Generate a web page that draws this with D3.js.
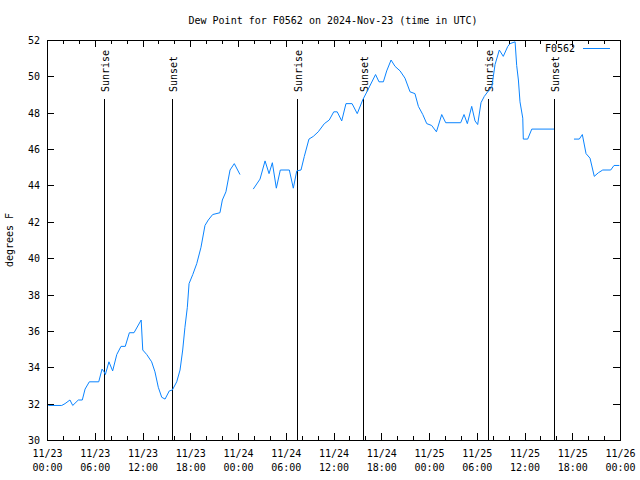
<!DOCTYPE html>
<html>
<head>
<meta charset="utf-8">
<script src="https://cdn.jsdelivr.net/npm/d3@7"></script>
<style>
  body { margin: 0; background: #fff; }
  svg { display: block; }
  text { font-family: "DejaVu Sans Mono", "Liberation Mono", monospace; font-size: 10px; fill: #000; }
</style>
</head>
<body>
<svg id="chart" width="640" height="480"></svg>
<script>
// ---- data ----
const title = "Dew Point for F0562 on 2024-Nov-23 (time in UTC)";
const seriesName = "F0562";
const yLabel = "degrees F";
// observation times (UTC); null values mark gaps in the record
const times = [
  "2024-11-23T00:10","2024-11-23T01:51","2024-11-23T02:16","2024-11-23T02:53","2024-11-23T03:14",
  "2024-11-23T03:56","2024-11-23T04:26","2024-11-23T04:47","2024-11-23T05:19","2024-11-23T06:30",
  "2024-11-23T06:55","2024-11-23T07:10","2024-11-23T07:20","2024-11-23T07:47","2024-11-23T08:15",
  "2024-11-23T08:46","2024-11-23T09:18","2024-11-23T09:50","2024-11-23T10:21","2024-11-23T10:56",
  "2024-11-23T11:50","2024-11-23T12:02","2024-11-23T12:32","2024-11-23T13:09","2024-11-23T13:34",
  "2024-11-23T13:59","2024-11-23T14:25","2024-11-23T14:50","2024-11-23T15:22","2024-11-23T15:45",
  "2024-11-23T16:18","2024-11-23T16:43","2024-11-23T17:03","2024-11-23T17:20","2024-11-23T17:38",
  "2024-11-23T17:51","2024-11-23T18:19","2024-11-23T18:49","2024-11-23T19:21","2024-11-23T19:51",
  "2024-11-23T20:16","2024-11-23T20:49","2024-11-23T21:44","2024-11-23T22:02","2024-11-23T22:29",
  "2024-11-23T23:00","2024-11-23T23:32","2024-11-24T00:15","2024-11-24T01:00",
  "2024-11-24T01:55","2024-11-24T02:46","2024-11-24T03:24","2024-11-24T03:54","2024-11-24T04:19",
  "2024-11-24T04:49","2024-11-24T05:19","2024-11-24T06:27","2024-11-24T06:57","2024-11-24T07:23",
  "2024-11-24T07:55","2024-11-24T08:20","2024-11-24T08:55","2024-11-24T09:28","2024-11-24T10:05",
  "2024-11-24T10:51","2024-11-24T11:28","2024-11-24T12:02","2024-11-24T12:28","2024-11-24T13:02",
  "2024-11-24T13:34","2024-11-24T14:20","2024-11-24T14:59","2024-11-24T15:40","2024-11-24T16:22",
  "2024-11-24T17:17","2024-11-24T17:43","2024-11-24T18:16","2024-11-24T18:41","2024-11-24T19:14",
  "2024-11-24T19:44","2024-11-24T20:22","2024-11-24T20:59","2024-11-24T21:37","2024-11-24T22:14",
  "2024-11-24T22:40","2024-11-24T23:13","2024-11-24T23:43","2024-11-25T00:20","2024-11-25T00:56",
  "2024-11-25T01:36","2024-11-25T02:06","2024-11-25T03:59","2024-11-25T04:24","2024-11-25T04:49",
  "2024-11-25T05:22","2024-11-25T05:47","2024-11-25T06:07","2024-11-25T06:32","2024-11-25T06:57",
  "2024-11-25T07:23","2024-11-25T07:53","2024-11-25T08:18","2024-11-25T08:50","2024-11-25T09:20",
  "2024-11-25T09:54","2024-11-25T10:11","2024-11-25T10:49","2024-11-25T11:01","2024-11-25T11:14",
  "2024-11-25T11:26","2024-11-25T11:47","2024-11-25T11:51","2024-11-25T12:24","2024-11-25T12:55",
  "2024-11-25T15:43","2024-11-25T17:00",
  "2024-11-25T18:13","2024-11-25T18:53","2024-11-25T19:16","2024-11-25T19:44","2024-11-25T20:14",
  "2024-11-25T20:46","2024-11-25T21:17","2024-11-25T21:50","2024-11-25T22:50","2024-11-25T23:15",
  "2024-11-25T23:55"
];
const dewPoint = [
  31.9,31.9,32.0,32.2,31.9,
  32.2,32.2,32.8,33.2,33.2,
  33.9,33.75,33.6,34.3,33.8,
  34.7,35.15,35.15,35.9,35.9,
  36.6,34.95,34.7,34.3,33.75,
  32.9,32.35,32.25,32.7,32.75,
  33.2,33.85,34.95,36.2,37.3,
  38.6,39.1,39.7,40.6,41.8,
  42.1,42.4,42.5,43.2,43.65,
  44.85,45.2,44.6,null,
  43.8,44.35,45.35,44.65,45.25,
  43.85,44.85,44.85,43.85,44.8,
  44.85,45.6,46.55,46.7,46.95,
  47.4,47.6,48.05,48.05,47.55,
  48.5,48.5,47.95,48.7,49.3,
  50.1,49.7,49.7,50.3,50.9,
  50.55,50.3,49.9,49.15,49.05,
  48.35,47.9,47.4,47.3,46.95,
  47.9,47.45,47.45,47.9,47.4,
  48.35,47.55,47.35,48.55,48.9,
  49.15,49.4,50.65,51.45,51.1,
  51.65,51.8,51.9,50.6,49.8,
  48.6,47.7,46.55,46.55,47.1,
  47.1,null,
  46.55,46.55,46.8,45.75,45.5,
  44.5,44.7,44.85,44.85,45.1,
  45.1
];
const sunLabels = ["Sunrise","Sunset","Sunrise","Sunset","Sunrise","Sunset"];
const sunTimes = ["2024-11-23T07:13","2024-11-23T15:40","2024-11-24T07:23","2024-11-24T15:45","2024-11-25T07:27","2024-11-25T15:45"];
const xDomain = ["2024-11-23T00:00","2024-11-26T00:00"];
const yDomain = [30, 52];
const yTicks = [30,32,34,36,38,40,42,44,46,48,50,52];

// ---- chart ----
const parse = d3.utcParse("%Y-%m-%dT%H:%M");
const W = 640, H = 480;
const m = {left: 47, right: 20, top: 40, bottom: 40};
const svg = d3.select("#chart");
const x = d3.scaleUtc().domain(xDomain.map(parse)).range([m.left, W - m.right]);
const y = d3.scaleLinear().domain(yDomain).range([H - m.bottom, m.top]);
const color = "#0a84ff";

const data = times.map((t, i) => ({t: parse(t), v: dewPoint[i]}));

// frame
svg.append("rect").attr("x", m.left + 0.5).attr("y", m.top + 0.5)
  .attr("width", x.range()[1] - m.left).attr("height", y.range()[0] - m.top)
  .attr("fill", "none").attr("stroke", "#000").attr("stroke-width", 1);

// ticks
const majorX = d3.utcHour.every(6).range(x.domain()[0], d3.utcHour.offset(x.domain()[1], 1));
const minorX = d3.utcHour.every(2).range(x.domain()[0], d3.utcHour.offset(x.domain()[1], 1));
const tg = svg.append("g").attr("stroke", "#000").attr("stroke-width", 1);
minorX.forEach(t => {
  const px = Math.round(x(t)) + 0.5;
  const major = majorX.some(u => +u === +t);
  const len = major ? 7 : 4;
  tg.append("line").attr("x1", px).attr("x2", px).attr("y1", y(30)).attr("y2", y(30) - len);
  tg.append("line").attr("x1", px).attr("x2", px).attr("y1", y(52)).attr("y2", y(52) + len);
});
yTicks.forEach(v => {
  const py = Math.round(y(v)) + 0.5;
  tg.append("line").attr("x1", m.left).attr("x2", m.left + 7).attr("y1", py).attr("y2", py);
  tg.append("line").attr("x1", x.range()[1]).attr("x2", x.range()[1] - 7).attr("y1", py).attr("y2", py);
});

// axis labels via d3 axes (domain/ticks hidden, text only)
const fmtD = d3.utcFormat("%m/%d"), fmtT = d3.utcFormat("%H:%M");
const xAxis = d3.axisBottom(x).tickValues(majorX).tickSize(0).tickFormat("");
const gx = svg.append("g").attr("transform", `translate(0,${H - m.bottom})`).call(xAxis);
gx.select(".domain").remove();
gx.selectAll(".tick").each(function(d) {
  const g = d3.select(this);
  g.append("text").attr("y", 17).attr("text-anchor", "middle").attr("fill", "#000").text(fmtD(d));
  g.append("text").attr("y", 31).attr("text-anchor", "middle").attr("fill", "#000").text(fmtT(d));
});
const yAxis = d3.axisLeft(y).tickValues(yTicks).tickSize(0).tickPadding(7).tickFormat(d3.format("d"));
const gy = svg.append("g").attr("transform", `translate(${m.left},0)`).call(yAxis);
gy.select(".domain").remove();
gy.selectAll("text").attr("font-family", null).attr("font-size", null).attr("fill", "#000").attr("dy", "0.35em");

// title and y label
svg.append("text").attr("x", 333).attr("y", 24).attr("text-anchor", "middle").text(title);
svg.append("text").attr("transform", `translate(13,${(m.top + H - m.bottom) / 2}) rotate(-90)`)
  .attr("text-anchor", "middle").text(yLabel);

// sunrise / sunset markers
sunTimes.forEach((t, i) => {
  const px = Math.round(x(parse(t))) + 0.5;
  svg.append("line").attr("x1", px).attr("x2", px).attr("y1", 99).attr("y2", y(30))
    .attr("stroke", "#000").attr("stroke-width", 1);
  svg.append("text").attr("transform", `translate(${px + 4},92) rotate(-90)`)
    .attr("text-anchor", "start").text(sunLabels[i]);
});

// line
const line = d3.line().defined(d => d.v !== null).x(d => x(d.t)).y(d => y(d.v));
svg.append("path").datum(data).attr("d", line).attr("fill", "none")
  .attr("stroke", color).attr("stroke-width", 1);

// legend
svg.append("text").attr("x", 575).attr("y", 52).attr("text-anchor", "end").text(seriesName);
svg.append("line").attr("x1", 583).attr("x2", 610).attr("y1", 48.5).attr("y2", 48.5)
  .attr("stroke", color).attr("stroke-width", 1);
</script>
</body>
</html>
